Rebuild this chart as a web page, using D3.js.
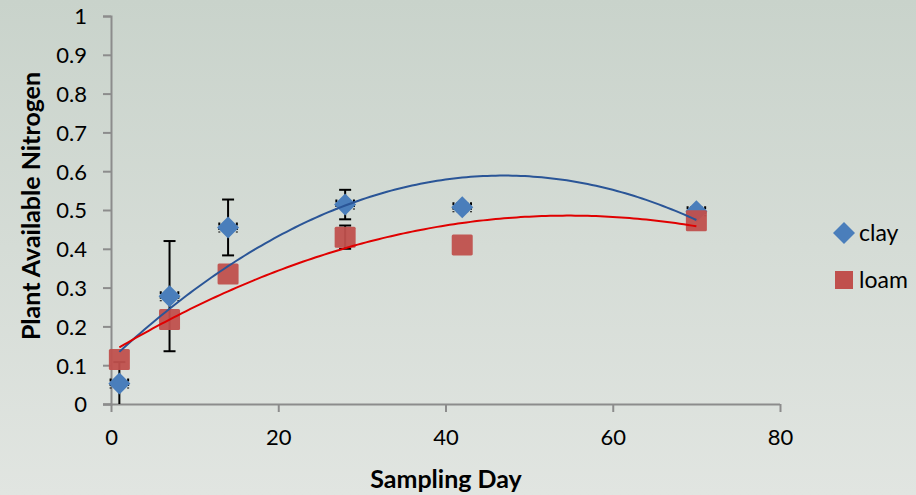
<!DOCTYPE html>
<html><head><meta charset="utf-8">
<script src="https://cdn.jsdelivr.net/npm/d3@7"></script>
<style>body{margin:0;padding:0;overflow:hidden}svg{display:block}</style>
</head><body><svg id="c" width="916" height="495"></svg>
<script>
const days = [1, 7, 14, 28, 42, 70];
const clay = [0.053, 0.278, 0.455, 0.514, 0.507, 0.497];
const clayErr = [0.055, 0.142, 0.072, 0.038, 0.01, 0.01];
const loam = [0.115, 0.218, 0.335, 0.43, 0.41, 0.472];
const loamErr = [0.0, 0.0, 0.0, 0.03, 0.0, 0.0];
const xErr = 1.05;
const xTicks = [0, 20, 40, 60, 80];
const yTicks = [0, 0.1, 0.2, 0.3, 0.4, 0.5, 0.6, 0.7, 0.8, 0.9, 1];
const seriesNames = ["clay", "loam"];

const FONT = "Lato, 'Open Sans', sans-serif";
const svg = d3.select("#c");
const defs = svg.append("defs");
const g = defs.append("linearGradient").attr("id","bg").attr("x1",0).attr("y1",0).attr("x2",0).attr("y2",1);
g.append("stop").attr("offset","0%").attr("stop-color","#c9d3cb");
g.append("stop").attr("offset","100%").attr("stop-color","#e1e5e1");
svg.append("rect").attr("width",916).attr("height",495).attr("fill","url(#bg)");

const x = d3.scaleLinear().domain([0,80]).range([111,780]);
const y = d3.scaleLinear().domain([0,1]).range([404,16]);

// axes
const xa = svg.append("g").attr("transform","translate(0,404)")
  .call(d3.axisBottom(x).tickValues(xTicks).tickSize(8).tickPadding(17).tickFormat(d3.format("d")));
const ya = svg.append("g").attr("transform","translate(111,0)")
  .call(d3.axisLeft(y).tickValues(yTicks).tickSize(8).tickPadding(16).tickFormat(d => d===0||d===1 ? String(d) : d3.format(".1f")(d)));
[xa, ya].forEach(a => {
  a.selectAll(".domain").attr("stroke","#8c8c8c").attr("stroke-width",2);
  a.selectAll(".tick line").attr("stroke","#8c8c8c").attr("stroke-width",2);
  a.selectAll("text").attr("font-family",FONT).attr("font-size",22).attr("fill","#000");
});
xa.select(".domain").attr("d","M103,0.5H780");
ya.selectAll(".tick text").attr("dy","0.36em");

// titles
svg.append("text").attr("x",446).attr("y",488).attr("text-anchor","middle")
  .attr("font-family",FONT).attr("font-weight","bold").attr("font-size",25).text("Sampling Day");
svg.append("text").attr("transform","translate(40,206) rotate(-90)").attr("text-anchor","middle")
  .attr("font-family",FONT).attr("font-weight","bold").attr("font-size",25).text("Plant Available Nitrogen");

// error bars
function errBars(vals, errs) {
  const eg = svg.append("g").attr("stroke","#000").attr("stroke-width",2);
  days.forEach((d,i) => {
    const cx = x(d);
    if (errs[i] > 0) {
      const y1 = y(Math.max(0, vals[i]-errs[i])), y2 = y(vals[i]+errs[i]);
      eg.append("line").attr("x1",cx).attr("x2",cx).attr("y1",y1).attr("y2",y2);
      eg.append("line").attr("x1",cx-6).attr("x2",cx+6).attr("y1",y2).attr("y2",y2);
      if (vals[i]-errs[i] > 0) eg.append("line").attr("x1",cx-6).attr("x2",cx+6).attr("y1",y1).attr("y2",y1);
    }
  });
}
function xErrBars(vals) {
  const eg = svg.append("g").attr("stroke","#000").attr("stroke-width",2).attr("stroke-dasharray","3,1.5");
  days.forEach((d,i) => {
    const cy = y(vals[i]);
    [x(d-xErr), x(d+xErr)].forEach(px => {
      eg.append("line").attr("x1",px).attr("x2",px).attr("y1",cy-5).attr("y2",cy+5);
    });
  });
}
errBars(clay, clayErr);
xErrBars(clay);
errBars(loam, loamErr);

const dia = (h) => `M0,${-h}L${h},0L0,${h}L${-h},0Z`;
svg.append("g").selectAll("path").data(days).join("path")
  .attr("d", dia(11))
  .attr("transform",(d,i)=>`translate(${x(d)},${y(clay[i])})`)
  .attr("fill","#4a7ebb");
svg.append("g").selectAll("rect").data(days).join("rect")
  .attr("x",d=>x(d)-10.5).attr("y",(d,i)=>y(loam[i])-10.5)
  .attr("width",21).attr("height",21).attr("rx",1.5)
  .attr("fill","#c0504d").attr("fill-opacity",0.95);

// polynomial (order 2) trendlines via least squares
function quadFit(xs, ys) {
  let S = [0,0,0,0,0], T = [0,0,0];
  xs.forEach((xv,i) => { for (let k=0;k<5;k++) S[k]+=Math.pow(xv,k); for (let k=0;k<3;k++) T[k]+=ys[i]*Math.pow(xv,k); });
  const M = [[S[0],S[1],S[2],T[0]],[S[1],S[2],S[3],T[1]],[S[2],S[3],S[4],T[2]]];
  for (let c=0;c<3;c++){ for (let r=c+1;r<3;r++){ const f=M[r][c]/M[c][c]; for(let k=c;k<4;k++) M[r][k]-=f*M[c][k]; } }
  const s=[0,0,0];
  for (let r=2;r>=0;r--){ let v=M[r][3]; for(let k=r+1;k<3;k++) v-=M[r][k]*s[k]; s[r]=v/M[r][r]; }
  return xv => s[0]+s[1]*xv+s[2]*xv*xv;
}
const line = d3.line().x(d=>x(d[0])).y(d=>y(d[1]));
[[clay,"#2a5597"],[loam,"#e00000"]].forEach(([vals,col]) => {
  const f = quadFit(days, vals);
  const pts = d3.range(1, 70.01, 0.5).map(t => [t, f(t)]);
  svg.append("path").attr("d", line(pts)).attr("fill","none").attr("stroke",col).attr("stroke-width",2);
});

// legend
const lg = svg.append("g");
lg.append("path").attr("d", dia(11)).attr("transform","translate(844,233)").attr("fill","#4a7ebb");
lg.append("rect").attr("x",835).attr("y",271).attr("width",18).attr("height",18).attr("fill","#c0504d");
lg.append("text").attr("x",859).attr("y",241).attr("font-family",FONT).attr("font-size",23).text(seriesNames[0]);
lg.append("text").attr("x",859).attr("y",288).attr("font-family",FONT).attr("font-size",23).text(seriesNames[1]);
</script></body></html>
